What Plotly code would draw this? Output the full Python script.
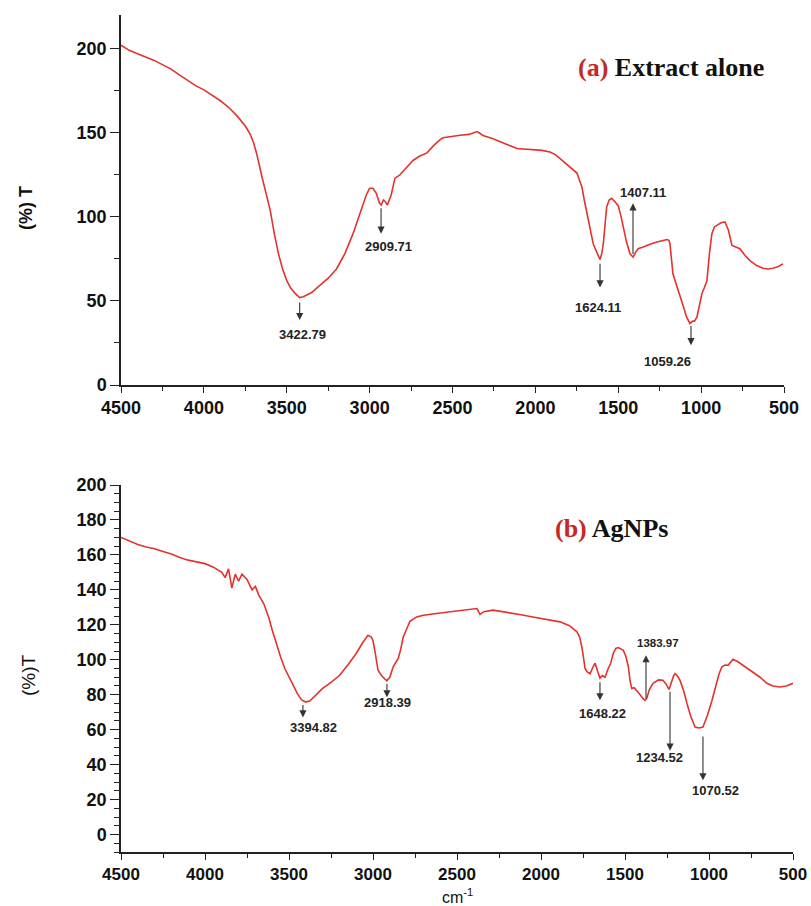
import plotly.graph_objects as go

# ---------------- data: (a) Extract alone ----------------
wn_a = [4500, 4450, 4400, 4350, 4300, 4250, 4200, 4150, 4100, 4050, 4000, 3950, 3900, 3850,
        3800, 3750, 3720, 3700, 3680, 3650, 3620, 3600, 3575, 3550, 3525, 3500, 3475, 3450,
        3422, 3400, 3350, 3300, 3250, 3200, 3150, 3100, 3050, 3020, 3000, 2980, 2960, 2940,
        2930, 2917, 2905, 2893, 2870, 2847, 2830, 2817, 2780, 2738, 2700, 2654, 2617, 2580,
        2557, 2500, 2455, 2400, 2352, 2340, 2316, 2260, 2213, 2160, 2111, 2060, 2014, 1960,
        1912, 1880, 1851, 1820, 1791, 1760, 1749, 1735, 1719, 1705, 1689, 1670, 1651, 1630,
        1610, 1600, 1590, 1580, 1570, 1555, 1540, 1520, 1501, 1485, 1471, 1450, 1429, 1410,
        1395, 1380, 1350, 1327, 1300, 1266, 1240, 1206, 1195, 1188, 1170, 1150, 1128, 1108,
        1088, 1068, 1050, 1040, 1025, 1010, 995, 980, 965, 950, 935, 920, 904, 880, 856, 835,
        814, 790, 766, 735, 705, 665, 627, 595, 566, 535, 506]
t_a = [202, 199, 197, 195, 193, 190.5, 188, 184.5, 181, 178, 175.5, 172.5, 169, 165,
       160, 154, 149, 144, 137, 124, 113, 104, 90, 78, 69, 62, 57.5, 54.5,
       52, 52.5, 55, 59, 63.5, 69, 78, 90, 104, 113, 117, 117, 114, 108,
       107, 110, 109, 107, 113, 123, 124, 125, 129, 133.5, 136, 138, 142, 145.5,
       147, 148, 148.5, 149, 150.7, 150, 148.4, 146.5, 144.4, 142.5, 140.6, 140.2, 140, 139.5,
       138.5, 137, 134.6, 132, 129.6, 127, 126, 122, 117.7, 110, 102, 92, 84, 79,
       74.6, 78, 84, 95, 105.8, 110, 111, 109, 106.8, 101, 94, 85, 78, 76,
       79, 81, 82, 83, 84, 85, 85.5, 86.5, 86, 84, 66, 60, 54.4, 47,
       40.5, 36.6, 38, 38, 40.5, 47, 54.4, 58, 62, 78, 90, 94, 95, 96.5, 97, 92,
       83, 82, 81, 77, 74, 71, 69.4, 69, 69.4, 70.5, 72]

# ---------------- data: (b) AgNPs ----------------
wn_b = [4500, 4450, 4400, 4350, 4300, 4250, 4200, 4150, 4100, 4050, 4000, 3950, 3900, 3880,
        3860, 3840, 3820, 3800, 3780, 3750, 3720, 3700, 3680, 3650, 3620, 3600, 3575, 3550,
        3525, 3500, 3475, 3450, 3425, 3400, 3375, 3350, 3300, 3250, 3200, 3150, 3100, 3060,
        3030, 3010, 3000, 2985, 2970, 2950, 2918, 2900, 2880, 2850, 2835, 2820, 2800, 2780,
        2740, 2700, 2600, 2542, 2450, 2381, 2363, 2340, 2286, 2200, 2120, 2048, 1960, 1887,
        1830, 1786, 1770, 1756, 1745, 1738, 1725, 1708, 1690, 1678, 1665, 1649, 1635, 1619,
        1600, 1585, 1570, 1555, 1540, 1525, 1510, 1495, 1480, 1470, 1460, 1445, 1430, 1410,
        1395, 1381, 1370, 1355, 1333, 1300, 1274, 1255, 1238, 1225, 1210, 1202, 1190, 1173,
        1150, 1131, 1110, 1083, 1060, 1036, 1010, 982, 960, 940, 923, 905, 887, 870, 857,
        830, 800, 774, 740, 696, 655, 620, 577, 540, 500]
t_b = [170, 168, 166, 164.5, 163.5, 162, 160.5, 158.5, 157, 156, 155, 153, 150, 147,
       152, 141, 149, 145, 149, 146, 140, 142, 137, 132, 124, 117, 109, 101.6,
       95, 90, 85, 80.6, 77, 75.8, 76.5, 78.7, 83.6, 87, 91, 97, 103.6, 110,
       114, 113, 111, 103, 94, 91, 88, 90, 96, 100.8, 106, 113, 118, 122,
       124.5, 125.5, 126.8, 127.4, 128.3, 129.3, 126, 127.5, 128.4, 127.2, 125.8, 124.5, 123, 121.7,
       119.5, 116, 113, 107, 100, 95, 93, 92, 96, 98, 94, 89.5, 91, 90,
       95, 98, 103.6, 106.5, 107, 106, 105.4, 102, 96, 88, 83.6, 84, 82.5, 80,
       78, 76.8, 78, 83, 86.5, 88.5, 88.3, 86, 83, 87, 91, 92, 91, 88.3,
       82, 75, 68, 61.5, 61, 61.5, 68, 76.8, 85, 92, 96, 97, 96.8, 99, 100.3,
       99, 97, 95, 92.5, 90, 86.5, 85, 84.4, 85, 86.5]

# ---------------- peak labels ----------------
# (label, arrow x, tail y, tip y, label x, label y)
peaks_a = [("3422.79", 3422, 50, 38.6, 3402, 30.3),
           ("2909.71", 2931, 106, 90, 2889, 82.5),
           ("1624.11", 1610, 73, 58, 1622, 46.3),
           ("1407.11", 1411, 77, 108, 1351, 114.5),
           ("1059.26", 1061, 36, 23.7, 1200, 14.2)]
peaks_b = [("3394.82", 3417, 75, 67, 3357, 61.3),
           ("2918.39", 2917, 87, 78.5, 2911, 75.6),
           ("1648.22", 1649, 88, 76.8, 1631, 69.3),
           ("1383.97", 1375, 77, 102.6, 1304, 109.5),
           ("1234.52", 1232, 82.5, 48, 1292, 44),
           ("1070.52", 1036, 57, 31, 964, 25.2)]

W, H = 811, 906
RED = "#e5322d"

def px(x):
    return x / W

def py(y):
    return 1 - y / H

fig = go.Figure()
fig.add_trace(go.Scatter(x=wn_a, y=t_a, mode="lines", line=dict(color=RED, width=1.6),
                         xaxis="x", yaxis="y", showlegend=False))
fig.add_trace(go.Scatter(x=wn_b, y=t_b, mode="lines", line=dict(color=RED, width=1.6),
                         xaxis="x2", yaxis="y2", showlegend=False))

def tickfont(size):
    return dict(family="Liberation Sans, Arial, sans-serif", size=size, color="#111", weight="bold")

axis_common = dict(showline=True, linecolor="#222", linewidth=1.5, showgrid=False, zeroline=False,
                   ticks="outside", tickcolor="#222", tickwidth=1.3, automargin=False)

fig.update_layout(
    template="none",
    width=W, height=H,
    margin=dict(l=0, r=0, t=0, b=0, pad=0, autoexpand=False),
    paper_bgcolor="white", plot_bgcolor="white",
    xaxis=dict(domain=[px(121), px(784)], range=[4500, 500], anchor="y", dtick=500, tick0=500,
               ticklen=6, tickfont=tickfont(18),
               minor=dict(dtick=250, tick0=500, ticks="outside", ticklen=4, tickcolor="#222"),
               **axis_common),
    yaxis=dict(domain=[py(385), py(15)], range=[0, 220], anchor="x", dtick=50, tick0=0,
               ticklen=9, tickfont=tickfont(18),
               minor=dict(dtick=25, tick0=0, ticks="outside", ticklen=5, tickcolor="#222"),
               **axis_common),
    xaxis2=dict(domain=[px(121), px(793)], range=[4500, 500], anchor="y2", dtick=500, tick0=500,
                ticklen=6, tickfont=tickfont(17),
                minor=dict(dtick=250, tick0=500, ticks="outside", ticklen=4, tickcolor="#222"),
                **axis_common),
    yaxis2=dict(domain=[py(852), py(485)], range=[-10, 200], anchor="x2", dtick=20, tick0=0,
                ticklen=9, tickfont=tickfont(18),
                minor=dict(dtick=5, tick0=0, ticks="outside", ticklen=5, tickcolor="#222"),
                **axis_common),
)

ann = []
for peaks, xr, yr in ((peaks_a, "x", "y"), (peaks_b, "x2", "y2")):
    for lab, ax_, tail, tip, lx, ly in peaks:
        ann.append(dict(x=ax_, y=tip, ax=ax_, ay=tail, xref=xr, yref=yr, axref=xr, ayref=yr,
                        text="", showarrow=True, arrowhead=2, arrowsize=1.3, arrowwidth=1.1,
                        arrowcolor="#333"))
        size = 11.5 if lab == "1383.97" else 13
        ann.append(dict(x=lx, y=ly, xref=xr, yref=yr, text=lab, showarrow=False,
                        xanchor="center", yanchor="middle",
                        font=dict(family="Liberation Sans, Arial, sans-serif", size=size,
                                  color="#222", weight="bold")))

titlefont = dict(family="Liberation Serif, Times New Roman, serif", size=26, color="#111", weight="bold")
ann.append(dict(x=px(671), y=py(68), xref="paper", yref="paper", showarrow=False,
                xanchor="center", yanchor="middle",
                text="<span style='color:#c62828'>(a)</span> Extract alone", font=titlefont))
ann.append(dict(x=px(611), y=py(528), xref="paper", yref="paper", showarrow=False,
                xanchor="center", yanchor="middle",
                text="<span style='color:#c62828'>(b)</span> AgNPs", font=titlefont))

ann.append(dict(x=px(26), y=py(208), xref="paper", yref="paper", showarrow=False, textangle=-90,
                xanchor="center", yanchor="middle",
                text="(%) T", font=dict(family="Liberation Sans, Arial, sans-serif", size=18,
                                        color="#111", weight="bold")))
ann.append(dict(x=px(28), y=py(675), xref="paper", yref="paper", showarrow=False, textangle=-90,
                xanchor="center", yanchor="middle",
                text="(%)T", font=dict(family="Liberation Sans, Arial, sans-serif", size=19,
                                       color="#111")))
ann.append(dict(x=px(457), y=py(885), xref="paper", yref="paper", xanchor="center", yanchor="top",
                showarrow=False, borderpad=0,
                text="cm<sup>-1</sup>", font=dict(family="Liberation Sans, Arial, sans-serif", size=16,
                                                  color="#111")))
fig.update_layout(annotations=ann)

fig.write_html("out.html")
